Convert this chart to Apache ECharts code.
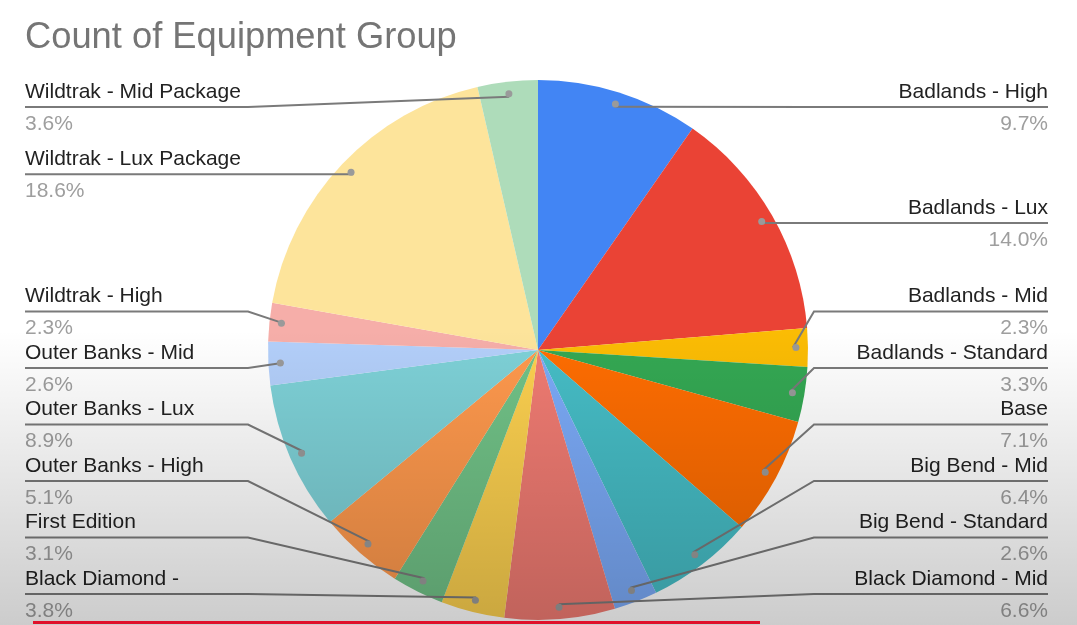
<!DOCTYPE html>
<html>
<head>
<meta charset="utf-8">
<script src="https://cdn.jsdelivr.net/npm/echarts@6/dist/echarts.min.js"></script>
<style>
html,body{margin:0;padding:0;background:#ffffff;}
#chart{width:1077px;height:625px;}
</style>
</head>
<body>
<div id="chart"></div>
<script>
// ---- data ----
const titleText = 'Count of Equipment Group';
const categories = [
  'Badlands - High', 'Badlands - Lux', 'Badlands - Mid', 'Badlands - Standard',
  'Base', 'Big Bend - Mid', 'Big Bend - Standard', 'Black Diamond - Mid',
  'Black Diamond -', 'First Edition', 'Outer Banks - High', 'Outer Banks - Lux',
  'Outer Banks - Mid', 'Wildtrak - High', 'Wildtrak - Lux Package', 'Wildtrak - Mid Package'
];
const percentValues = [9.7, 14.0, 2.3, 3.3, 7.1, 6.4, 2.6, 6.6, 3.8, 3.1, 5.1, 8.9, 2.6, 2.3, 18.6, 3.6];
const sliceColors = [
  '#4285f4', '#ea4335', '#fbbc04', '#34a853', '#ff6d01', '#46bdc6', '#7baaf7', '#f07b72',
  '#fcd04f', '#71c287', '#ff994d', '#7ed1d7', '#b3cffa', '#f6aea9', '#fde49b', '#aedcba'
];

// ---- layout constants ----
const CX = 538, CY = 350, R = 270, DOT_R = 255;
const LABEL_STEP = 56.5, LABEL_TOP = 107, LABEL_BOTTOM = 594;
const NAME_LH = 30, PCT_LH = 34;
const LEFT_RUN = 223, RIGHT_RUN = 234;
const FONT = '"Liberation Sans", Arial, sans-serif';

// Google-Sheets-like label stacking: labels sit at the height of their slice's
// anchor point, then get pushed apart (downwards, then upwards from the bottom).
function computeLabelLines(values) {
  const total = values.reduce((a, b) => a + b, 0);
  let acc = 0;
  const items = values.map((v, i) => {
    const mid = (acc + v / 2) / total * Math.PI * 2;
    acc += v;
    return {i: i, side: Math.sin(mid) < 0 ? 'L' : 'R', y: CY - DOT_R * Math.cos(mid)};
  });
  const result = [];
  ['L', 'R'].forEach(side => {
    const list = items.filter(it => it.side === side).sort((a, b) => a.y - b.y);
    let prev = -Infinity;
    list.forEach(it => { it.y = Math.max(it.y, LABEL_TOP, prev + LABEL_STEP); prev = it.y; });
    let next = Infinity;
    for (let k = list.length - 1; k >= 0; k--) {
      list[k].y = Math.min(list[k].y, LABEL_BOTTOM, next - LABEL_STEP);
      next = list[k].y;
    }
    list.forEach(it => { result[it.i] = it.y; });
  });
  return result;
}
const labelLineY = computeLabelLines(percentValues);

const chart = echarts.init(document.getElementById('chart'), null, {renderer: 'canvas'});

const pieData = categories.map((c, i) => ({name: c, value: percentValues[i], itemStyle: {color: sliceColors[i]}}));
const helperData = categories.map((c, i) => ({name: c, value: percentValues[i]}));

const commonBox = {top: 0, bottom: 0, left: 0, right: 4, center: [CX, CY], startAngle: 90, clockwise: true};

const option = {
  backgroundColor: '#ffffff',
  animation: false,
  title: {
    text: titleText,
    left: 25,
    top: 20,
    padding: 0,
    textStyle: {fontSize: 36.3, fontWeight: 'normal', color: '#757575', fontFamily: FONT}
  },
  series: [
    Object.assign({
      type: 'pie',
      name: 'main',
      radius: [0, R],
      silent: true,
      data: pieData,
      label: {show: false},
      labelLine: {show: false},
      itemStyle: {borderWidth: 0},
      z: 1
    }, commonBox),
    Object.assign({
      type: 'pie',
      name: 'dots',
      radius: [DOT_R - 15, DOT_R + 15],
      silent: true,
      data: helperData,
      itemStyle: {color: 'rgba(0,0,0,0)', borderWidth: 0},
      label: {
        show: true,
        position: 'inside',
        formatter: '{d| }',
        rich: {d: {width: 7, height: 7, borderRadius: 3.5, backgroundColor: '#9a9a9a'}}
      },
      labelLine: {show: false},
      z: 4
    }, commonBox),
    Object.assign({
      type: 'pie',
      name: 'labels',
      radius: [0, DOT_R],
      silent: true,
      data: helperData,
      itemStyle: {color: 'rgba(0,0,0,0)', borderWidth: 0},
      avoidLabelOverlap: false,
      label: {
        show: true,
        position: 'outside',
        alignTo: 'edge',
        edgeDistance: 25,
        overflow: 'none',
        formatter: function (p) {
          return '{n|' + p.name + '}\n{p|' + p.value.toFixed(1) + '%}';
        },
        rich: {
          n: {fontSize: 21, lineHeight: NAME_LH, color: '#222222', fontFamily: FONT},
          p: {fontSize: 21, lineHeight: PCT_LH, color: '#9e9e9e', fontFamily: FONT}
        }
      },
      labelLine: {show: true, length: 0, length2: 0, lineStyle: {color: '#7a7a7a', width: 2}},
      labelLayout: function (params) {
        const pts = params.labelLinePoints;
        const r = params.labelRect;
        const isLeft = r.x + r.width / 2 < CX;
        const ly = labelLineY[params.dataIndex];
        const edgeX = isLeft ? r.x : r.x + r.width;
        const elbowX = isLeft ? edgeX + LEFT_RUN : edgeX - RIGHT_RUN;
        const out = {y: ly - NAME_LH, verticalAlign: 'top'};
        if (pts) out.labelLinePoints = [pts[0], [elbowX, ly], [edgeX, ly]];
        return out;
      },
      z: 3
    }, commonBox)
  ],
  graphic: [
    {
      type: 'rect',
      z: 100,
      silent: true,
      shape: {x: 0, y: 330, width: 1077, height: 295},
      style: {
        fill: new echarts.graphic.LinearGradient(0, 0, 0, 1, [
          {offset: 0, color: 'rgba(0,0,0,0)'},
          {offset: 1, color: 'rgba(0,0,0,0.2)'}
        ])
      }
    },
    {
      type: 'rect',
      z: 101,
      silent: true,
      shape: {x: 33, y: 621, width: 727, height: 3},
      style: {fill: '#e0112b'}
    }
  ]
};
chart.setOption(option);
</script>
</body>
</html>
